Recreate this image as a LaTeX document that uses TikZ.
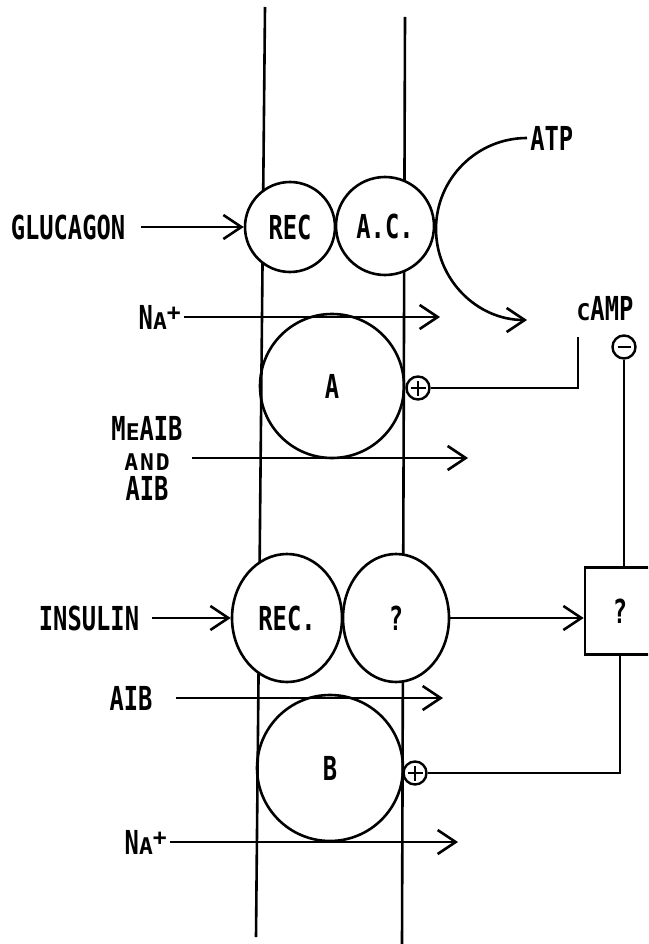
\documentclass[tikz,border=0pt]{standalone}
\usepackage{fontspec}
\newfontfamily\letterfont[FakeStretch=0.72]{DejaVu Sans Mono}
\newfontfamily\lowfont[FakeStretch=1.0, LetterSpace=8]{DejaVu Sans Mono}
\usetikzlibrary{arrows.meta,positioning,shapes.geometric}
\newcommand{\lowcap}[1]{{\lowfont\bfseries\fontsize{23}{23}\selectfont #1}}

\tikzset{
  lbl/.style={font=\letterfont\bfseries\fontsize{33}{30}\selectfont, inner sep=2pt},
  cell/.style={lbl, circle, draw, fill=white, inner sep=0pt},
  oval/.style={lbl, ellipse, draw, fill=white, inner sep=0pt, minimum height=128pt},
  chan/.style={lbl, circle, draw, inner sep=0pt},
  sign/.style={circle, draw, fill=white, minimum size=23pt, inner sep=0pt, line width=2.4pt},
  possign/.style={sign, path picture={
    \draw[line width=2pt] ([yshift=4pt]path picture bounding box.south) -- ([yshift=-4pt]path picture bounding box.north)
      ([xshift=4pt]path picture bounding box.west) -- ([xshift=-4pt]path picture bounding box.east);}},
  negsign/.style={sign, path picture={
    \draw[line width=2.4pt] ([xshift=5pt]path picture bounding box.west) -- ([xshift=-5pt]path picture bounding box.east);}},
  ctrlbox/.style={lbl, draw, fill=white, minimum width=70pt, minimum height=87pt},
  barb/.style={-{Straight Barb[length=18pt,width=24pt]}},
}

\begin{document}
\begin{tikzpicture}[x=1pt, y=-1pt, line width=2.6pt]
    \useasboundingbox (0,0) rectangle (648,944);
    \clip (0,0) rectangle (648,944);

    % Membrane: two walls
    \coordinate (mlt) at (265,7);
    \coordinate (mlb) at (256,937);
    \coordinate (mrt) at (405,17);
    \coordinate (mrb) at (402,944);
    \draw (mlt) -- (mlb);
    \draw (mrt) -- (mrb);

    % Glucagon -> receptor, adenylate cyclase
    \node[cell, minimum size=90pt] (grec) at (290,227) {REC};
    \node[cell, minimum size=98pt] (ac) at (385,226) {A.C.};
    \node[lbl] (glucagon) at (68,227) {GLUCAGON};
    \draw[barb, shorten <=12pt] (glucagon) -- (grec);

    \node[lbl, anchor=west] (atp) at (527,138) {ATP};
    \draw[barb] (atp.west) arc[start angle=90, end angle=270, radius=91pt];
    \node[lbl] (camp) at (605,309) {\lowcap{C}AMP};
    \node[negsign] (inhib) at (624,347) {};

    % System A
    \node[chan, minimum size=144pt] (chana) at (332,386) {A};
    \node[lbl, anchor=east] (naone) at (184,317) {N\lowcap{A}\raisebox{9pt}{\lowcap{+}}};
    \coordinate (naoneend) at (440,317);
    \draw[barb] (naone.east) -- (naoneend);
    \node[possign] (plusa) at (418,388) {};
    \coordinate (campfoot) at (578,337);
    \draw (plusa) -| (campfoot);

    \node[lbl, align=center] (meaib) at (147,458) {M\lowcap{E}AIB\\\lowcap{AND}\\AIB};
    \coordinate (meaibend) at (468,458);
    \draw[barb, shorten <=6pt] (meaib.east) -- (meaibend);

    % Insulin -> receptor -> ?
    \node[oval, minimum width=110pt] (irec) at (287,618) {REC.};
    \node[oval, minimum width=106pt] (iq) at (396,618) {?};
    \node[lbl] (insulin) at (89,618) {INSULIN};
    \draw[barb, shorten <=10pt] (insulin) -- (irec);
    \node[ctrlbox] (unk) at (620,611) {?};
    \draw[barb] (iq.east) -- (iq.east -| unk.west);
    \draw (inhib) -- (inhib |- unk.north);

    % System B
    \node[chan, minimum size=146pt] (chanb) at (330,768) {B};
    \node[lbl] (aibtwo) at (131,698) {AIB};
    \coordinate (aibtwoend) at (443,698);
    \draw[barb, shorten <=20pt] (aibtwo) -- (aibtwoend);
    \node[lbl, anchor=east] (natwo) at (170,842) {N\lowcap{A}\raisebox{9pt}{\lowcap{+}}};
    \coordinate (natwoend) at (458,842);
    \draw[barb] (natwo.east) -- (natwoend);
    \node[possign] (plusb) at (415,773) {};
    \draw (plusb) -| (unk);
\end{tikzpicture}
\end{document}
